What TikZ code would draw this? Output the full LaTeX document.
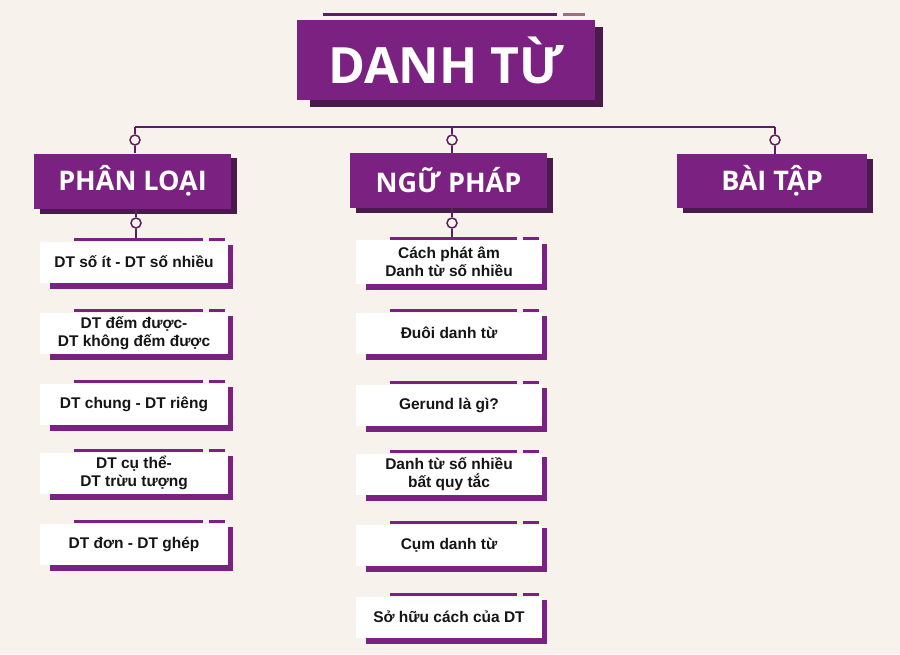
\documentclass[tikz,border=0pt]{standalone}
\usepackage{fontspec}
\setmainfont{Liberation Sans}
\newfontfamily\headfont{Open Sans}
\usetikzlibrary{calc}
\definecolor{bgc}{HTML}{F7F2EB}
\definecolor{purp}{HTML}{7B2181}
\definecolor{darkp}{HTML}{4A1A4C}
\definecolor{linec}{HTML}{5B1F5E}
\definecolor{mauve}{HTML}{9C6E80}
\definecolor{ink}{HTML}{151515}
\pgfdeclarelayer{back}
\pgfsetlayers{back,main}
\tikzset{
  titlebox/.style={fill=purp, text=white, minimum width=298pt, minimum height=80pt, inner sep=0pt,
    font=\headfont\bfseries\fontsize{50}{54}\selectfont},
  catbox/.style={fill=purp, text=white, minimum width=197pt, minimum height=55pt, inner sep=0pt,
    font=\headfont\bfseries\fontsize{27}{32}\selectfont},
  itembox/.style={fill=white, text=ink, minimum width=188pt, minimum height=41pt, inner sep=0pt,
    align=center, font=\bfseries\fontsize{15.5}{18}\selectfont},
  ring/.style={circle, draw=linec, line width=1.5pt, fill=bgc, minimum size=10pt, inner sep=0pt},
  conn/.style={draw=linec, line width=2pt},
}
\newcommand{\itemdeco}[1]{%
  \begin{pgfonlayer}{back}
    \fill[purp] ($(#1.south west)+(10,6)$) rectangle ($(#1.north east)+(5,4)$);
  \end{pgfonlayer}
  \draw[purp, line width=3pt] ($(#1.north west)+(34,-1.5)$) -- ($(#1.north east)+(-25,-1.5)$);
  \draw[purp, line width=3pt] ($(#1.north east)+(-19,-1.5)$) -- ($(#1.north east)+(-3,-1.5)$);
}
\newcommand{\catdeco}[1]{%
  \begin{pgfonlayer}{back}
    \fill[darkp] ($(#1.south west)+(6,5)$) rectangle ($(#1.north east)+(6,5)$);
  \end{pgfonlayer}
}
\begin{document}
\begin{tikzpicture}[x=1pt,y=-1pt]
\useasboundingbox (0,0) rectangle (900,654);
\begin{pgfonlayer}{back}
  \fill[bgc] (0,0) rectangle (900,654);
\end{pgfonlayer}

% title
\node[titlebox] (title) at (446,60) {DANH TỪ};
\begin{pgfonlayer}{back}
  \fill[darkp] ($(title.south west)+(13,7)$) rectangle ($(title.north east)+(8,7)$);
\end{pgfonlayer}
\draw[linec, line width=3pt] ($(title.north west)+(26,-5)$) -- ($(title.north east)+(-38,-5)$);
\draw[mauve, line width=3pt] ($(title.north east)+(-32,-5)$) -- ($(title.north east)+(-10,-5)$);

% categories
\node[catbox] (pl) at (132.5,181) {PHÂN LOẠI};
\node[catbox] (np) at (448.5,180.5) {NGỮ PHÁP};
\node[catbox, minimum width=190pt, minimum height=54pt] (bt) at (772,181) {BÀI TẬP};
\catdeco{pl}\catdeco{np}\catdeco{bt}

% left column items
\node[itembox] (a1) at (134,262) {DT số ít - DT số nhiều};
\node[itembox] (a2) at (134,333) {DT đếm được-\\DT không đếm được};
\node[itembox] (a3) at (134,404) {DT chung - DT riêng};
\node[itembox] (a4) at (134,473) {DT cụ thể-\\DT trừu tượng};
\node[itembox] (a5) at (134,544) {DT đơn - DT ghép};
\foreach \n in {a1,a2,a3,a4,a5}{\itemdeco{\n}}

% middle column items
\node[itembox, minimum width=186pt, minimum height=44pt] (b1) at (449,262) {Cách phát âm\\Danh từ số nhiều};
\node[itembox, minimum width=186pt] (b2) at (449,333) {Đuôi danh từ};
\node[itembox, minimum width=186pt] (b3) at (449,405) {Gerund là gì?};
\node[itembox, minimum width=186pt] (b4) at (449,474) {Danh từ số nhiều\\bất quy tắc};
\node[itembox, minimum width=186pt] (b5) at (449,545) {Cụm danh từ};
\node[itembox, minimum width=186pt] (b6) at (449,617) {Sở hữu cách của DT};
\foreach \n in {b1,b2,b3,b4,b5,b6}{\itemdeco{\n}}

% connectors
\coordinate (hl) at (135,127);
\coordinate (hm) at (452,127);
\coordinate (hr) at (775,127);
\node[ring] (r1) at (135,140) {};
\node[ring] (r2) at (452,140) {};
\node[ring] (r3) at (775,140) {};
\node[ring] (r4) at (136,223) {};
\node[ring] (r5) at (452,223) {};
\begin{pgfonlayer}{back}
\draw[conn] (hl) -- (hr);
\draw[conn] (hl) -- (r1) -- (r1 |- pl.north);
\draw[conn] (hm) -- (r2) -- (r2 |- np.north);
\draw[conn] (hr) -- (r3) -- (r3 |- bt.north);
\draw[conn] (r4 |- pl.south) -- (r4) -- (r4 |- a1.north);
\draw[conn] (r5 |- np.south) -- (r5) -- (r5 |- b1.north);
\end{pgfonlayer}
\end{tikzpicture}
\end{document}
